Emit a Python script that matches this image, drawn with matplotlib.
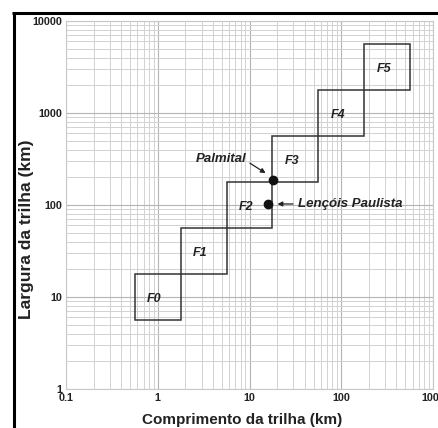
import numpy as np
import matplotlib.pyplot as plt
from matplotlib.lines import Line2D
from matplotlib.patches import Rectangle
from matplotlib.ticker import LogLocator, NullFormatter, FixedLocator

plt.rcParams['font.family'] = ['Liberation Sans', 'DejaVu Sans']

# Fujita classes: box edges (km)
classes = ['F0', 'F1', 'F2', 'F3', 'F4', 'F5']
length_edges = [0.562, 1.78, 5.62, 17.8, 56.2, 178, 562]
width_edges = [5.62, 17.8, 56.2, 178, 562, 1780, 5620]

# observed tracks
sites = ['Palmital', 'Lençóis Paulista']
site_length = [18.0, 16.0]
site_width = [188.0, 102.0]

xticks = [0.1, 1, 10, 100, 1000]
xticklabels = ['0.1', '1', '10', '100', '1000']
yticks = [1, 10, 100, 1000, 10000]
yticklabels = ['1', '10', '100', '1000', '10000']

W, H = 438, 428
fig = plt.figure(figsize=(W / 100, H / 100), dpi=100)
ax = fig.add_axes([66 / W, 39 / H, 367 / W, 368 / H])
ax.set_xscale('log')
ax.set_yscale('log')
ax.set_xlim(0.1, 1000)
ax.set_ylim(1, 10000)

ax.xaxis.set_major_locator(FixedLocator(xticks))
ax.yaxis.set_major_locator(FixedLocator(yticks))
ax.xaxis.set_minor_locator(LogLocator(base=10, subs=np.arange(2, 10)))
ax.yaxis.set_minor_locator(LogLocator(base=10, subs=np.arange(2, 10)))
ax.xaxis.set_minor_formatter(NullFormatter())
ax.yaxis.set_minor_formatter(NullFormatter())
ax.set_xticklabels(xticklabels, fontsize=7.8, fontweight='bold')
ax.set_yticklabels(yticklabels, fontsize=7.8, fontweight='bold')
ax.tick_params(which='both', length=0, pad=3, colors='#222222')

ax.grid(which='major', color='#b4b4b4', lw=0.8)
ax.grid(which='minor', color='#d2d2d2', lw=0.7)
ax.set_axisbelow(True)
for s in ax.spines.values():
    s.set_color('#c8c8c8')
    s.set_linewidth(0.8)

for i, name in enumerate(classes):
    x0, x1 = length_edges[i], length_edges[i + 1]
    y0, y1 = width_edges[i], width_edges[i + 1]
    ax.add_patch(Rectangle((x0, y0), x1 - x0, y1 - y0, fill=False,
                           edgecolor='#333333', lw=1.1, zorder=3))
    ax.text(np.sqrt(x0 * x1) * 0.92, np.sqrt(y0 * y1) * 0.96, name, fontsize=9,
            fontstyle='italic', fontweight='bold', color='#222222',
            ha='center', va='center', zorder=4)

ax.plot(site_length, site_width, 'o', color='#111111', ms=6, zorder=5)

# Palmital label and arrow
ax.text(9.2, 320, sites[0], fontsize=9.5, fontstyle='italic', fontweight='bold',
        color='#222222', ha='right', va='center')
ax.annotate('', xy=(15.0, 222), xytext=(10.1, 285),
            arrowprops=dict(arrowstyle='-|>', color='#222222', lw=0.9,
                            mutation_scale=7, shrinkA=0, shrinkB=0))
# Lençóis Paulista label and arrow
ax.text(33.5, 103, sites[1], fontsize=9.5, fontstyle='italic', fontweight='bold',
        color='#222222', ha='left', va='center')
ax.annotate('', xy=(20.2, 102.6), xytext=(29.8, 102.6),
            arrowprops=dict(arrowstyle='-|>', color='#222222', lw=0.9,
                            mutation_scale=7, shrinkA=0, shrinkB=0))

# axis titles
fig.text(242 / W, 1 - 420 / H, 'Comprimento da trilha (km)', fontsize=11,
         fontweight='bold', color='#222222', ha='center', va='center')
fig.text(26.5 / W, 1 - 229 / H, 'Largura da trilha (km)', fontsize=12.5,
         fontweight='bold', color='#222222', ha='center', va='center',
         rotation=90)

# black frame of the cropped figure
top = 1 - 13 / H
fig.add_artist(Line2D([12 / W, 1.0], [top, top], transform=fig.transFigure,
                      color='black', lw=2.2, solid_capstyle='butt'))
fig.add_artist(Line2D([13.5 / W, 13.5 / W], [0.0, 1 - 12 / H],
                      transform=fig.transFigure, color='black', lw=2.2,
                      solid_capstyle='butt'))

fig.savefig('out.png', dpi=100)
